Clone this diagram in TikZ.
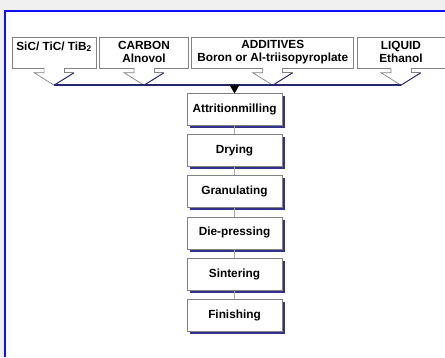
\documentclass[tikz,border=0pt]{standalone}
\usepackage{fontspec}
\setmainfont{Liberation Sans}
\usetikzlibrary{positioning, arrows.meta, calc, shadows}

\definecolor{panelblue}{RGB}{16,16,250}
\definecolor{navyline}{RGB}{40,40,110}
\definecolor{shadowblue}{RGB}{50,50,140}
\definecolor{boxgray}{RGB}{130,130,130}

\begin{document}
\begin{tikzpicture}[x=1pt, y=1pt, semithick,
		source/.style={rectangle, draw=boxgray, line width=0.7pt, fill=white, align=center, minimum height=31pt,
			inner sep=2pt, font=\fontsize{11.8}{13}\selectfont\bfseries},
		process/.style={rectangle, draw=boxgray, line width=0.7pt, fill=white, minimum width=95pt, minimum height=32pt,
			font=\fontsize{11.8}{13}\selectfont\bfseries,
			drop shadow={shadow xshift=2.6pt, shadow yshift=-2.6pt, fill=shadowblue, opacity=1}},
		tab/.style={draw=boxgray, line width=0.7pt},
		tabdark/.style={draw=navyline, line width=1pt},
		bar/.style={draw=navyline, line width=1.8pt},
		link/.style={draw=boxgray!70, line width=0.6pt}]

		\useasboundingbox (0,0) rectangle (445,-357);
		\fill[gray!12] (0,0) rectangle (445,-357);
		\fill[white] (5.3,-11) rectangle (445,-357);
		\draw[panelblue, line width=2pt] (5.3,-357) -- (5.3,-11) -- (446,-11);

		% raw materials
		\node[source, minimum width=84.5pt, anchor=north west] (sic) at (11.5,-36.5)
		{SiC/ TiC/ TiB\textsubscript{2}\\ \mbox{}};
		\node[source, minimum width=89pt] (carbon) [right=2.5pt of sic] {CARBON\\ Alnovol};
		\node[source, minimum width=162pt] (additives) [right=2.5pt of carbon] {ADDITIVES\\ Boron or Al-triisopyroplate};
		\node[source, minimum width=88pt] (liquid) [right=2.5pt of additives] {LIQUID\\ Ethanol};

		\foreach \b in {sic, carbon, additives, liquid} {
			\fill[white] ([xshift=-10pt, yshift=0.6pt]\b.south) -- ++(0,-5.1) -- ++(-10,0) -- ++(20,-12.5) -- ++(20,12.5) -- ++(-10,0) -- ++(0,5.1) -- cycle;
			\draw[tab] ([xshift=-10pt]\b.south) -- ++(0,-4.5) -- ++(-10,0) -- ++(20,-12.5) coordinate (\b-tip);
			\draw[tabdark] (\b-tip) -- ++(20,12.5);
			\draw[tab] ([xshift=10pt]\b.south) -- ++(0,-4.5) -- ++(10,0);
		}

		% process steps
		\node[process, anchor=north] (milling) at (234.5,-93) {Attritionmilling};
		\node[process] (drying) [below=8.5pt of milling] {Drying};
		\node[process] (granul) [below=8.5pt of drying] {Granulating};
		\node[process] (pressing) [below=8.5pt of granul] {Die-pressing};
		\node[process] (sinter) [below=8.5pt of pressing] {Sintering};
		\node[process] (finish) [below=8.5pt of sinter] {Finishing};

		\draw[bar] (sic-tip) -- (liquid-tip);
		\draw[-{Stealth[length=9.5pt, width=11pt, inset=2pt]}, line width=1pt, black, shorten >=-0.5pt]
			([yshift=1.5pt]milling.north |- sic-tip) -- (milling.north);

		\draw[link] (milling.south) -- (drying.north);
		\draw[link] (drying.south) -- (granul.north);
		\draw[link] (granul.south) -- (pressing.north);
		\draw[link] (pressing.south) -- (sinter.north);
		\draw[link] (sinter.south) -- (finish.north);

	\end{tikzpicture}
\end{document}
